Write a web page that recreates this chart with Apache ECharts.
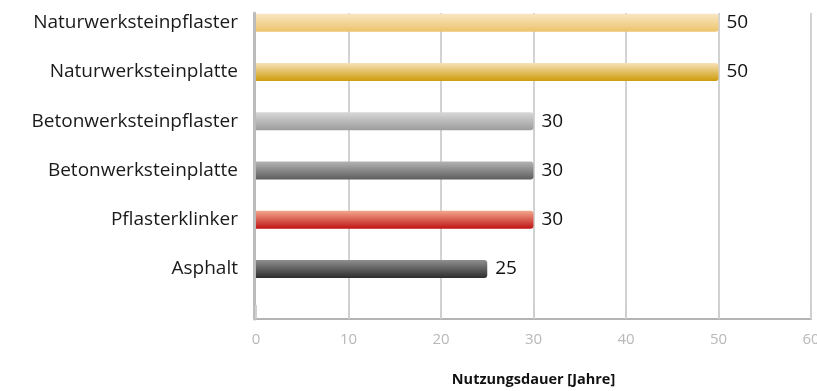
<!DOCTYPE html>
<html>
<head>
<meta charset="utf-8">
<script src="https://cdn.jsdelivr.net/npm/echarts@6/dist/echarts.min.js"></script>
<style>
  html, body { margin: 0; padding: 0; background: #fff; }
  #chart { width: 817px; height: 391px; }
</style>
</head>
<body>
<div id="chart"></div>
<script>
// Nutzungsdauer verschiedener Belagsarten
const categories = [
  'Naturwerksteinpflaster',
  'Naturwerksteinplatte',
  'Betonwerksteinpflaster',
  'Betonwerksteinplatte',
  'Pflasterklinker',
  'Asphalt'
];
const years = [50, 50, 30, 30, 30, 25];
const xTicks = { min: 0, max: 60, interval: 10 };
const axisTitle = 'Nutzungsdauer [Jahre]';

// top / bottom shade of each cylinder-style bar, plus the darker end cap
const barShades = [
  ['#f8e6c2', '#edc46c', '#d9a83a'],
  ['#f6e2b8', '#cf9c0c', '#b88a08'],
  ['#d8d8d8', '#9c9c9c', '#8a8a8a'],
  ['#b4b4b4', '#5e5e5e', '#555555'],
  ['#f3a88e', '#bf1416', '#d02020'],
  ['#909090', '#2e2e2e', '#3a3a3a']
];

const font = '"Open Sans", "Noto Sans", sans-serif';

const data = years.map((v, i) => ({
  value: v,
  itemStyle: {
    color: new echarts.graphic.LinearGradient(0, 0, 0, 1, [
      { offset: 0, color: barShades[i][0] },
      { offset: 1, color: barShades[i][1] }
    ]),
    borderRadius: [0, 3, 3, 0]
  }
}));

const chart = echarts.init(document.getElementById('chart'), null, { renderer: 'canvas' });
chart.setOption({
  animation: false,
  grid: [
    // bar area
    { left: 256, right: 6, top: -2, bottom: 97.5, containLabel: false, outerBoundsMode: 'none' },
    // frame with gridlines and value axis
    { left: 256, right: 6, top: 13, bottom: 72, containLabel: false, outerBoundsMode: 'none' }
  ],
  xAxis: [
    {
      gridIndex: 0, type: 'value', min: xTicks.min, max: xTicks.max, interval: xTicks.interval,
      show: false
    },
    {
      gridIndex: 1, type: 'value', min: xTicks.min, max: xTicks.max, interval: xTicks.interval,
      axisLine: { show: true, onZero: false, lineStyle: { color: '#b4b4b4', width: 2 } },
      axisTick: { show: true, inside: true, length: 14, lineStyle: { color: '#cfcfcf', width: 2 } },
      splitLine: { show: true, showMinLine: false, lineStyle: { color: '#d2d2d2', width: 2 } },
      axisLabel: { color: '#b8b8b8', fontSize: 15, fontFamily: font, margin: 13 },
      name: axisTitle,
      nameLocation: 'middle',
      nameGap: 53,
      nameTextStyle: { color: '#111', fontSize: 14.5, fontWeight: 'bold', fontFamily: font }
    }
  ],
  yAxis: [
    {
      gridIndex: 0, type: 'category', data: categories, inverse: true,
      axisLine: { show: false }, axisTick: { show: false }, splitLine: { show: false },
      axisLabel: { color: '#1a1a1a', fontSize: 19, fontFamily: font, margin: 18 }
    },
    {
      gridIndex: 1, type: 'value', min: 0, max: 1, position: 'left',
      axisLine: { show: true, onZero: false, lineStyle: { color: '#bcbcbc', width: 3 } },
      offset: 2,
      axisTick: { show: false }, axisLabel: { show: false }, splitLine: { show: false }
    }
  ],
  series: [{
    type: 'bar',
    xAxisIndex: 0,
    yAxisIndex: 0,
    data: data,
    barWidth: 18,
    label: {
      show: true, position: 'right', distance: 8,
      color: '#111', fontSize: 19, fontFamily: font
    }
  }]
});
</script>
</body>
</html>
